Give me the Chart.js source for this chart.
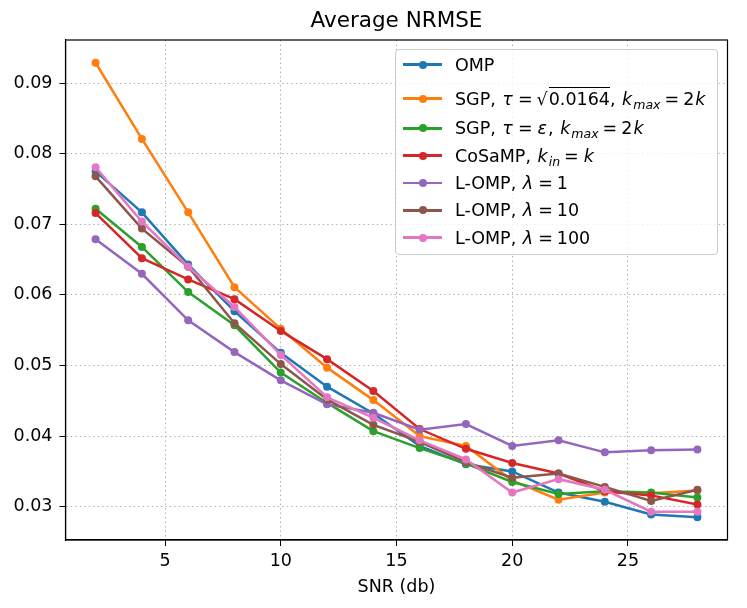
<!DOCTYPE html>
<html>
<head>
<meta charset="utf-8">
<script src="https://cdn.jsdelivr.net/npm/chart.js@4/dist/chart.umd.min.js"></script>
<style>
  body { margin: 0; background: #fff; }
  #wrap { position: relative; width: 747px; height: 608px; }
  #title {
    position: absolute; left: 65.5px; top: 7px; width: 662px; text-align: center;
    font-family: "DejaVu Sans", sans-serif; font-size: 21.5px; line-height: 25px; color: #000;
  }
  #legend {
    position: absolute; left: 395px; top: 49px; width: 323px;
    background: rgba(255,255,255,0.8); border: 1px solid #cccccc; border-radius: 4px;
    font-family: "DejaVu Sans", sans-serif; font-size: 17.5px; color: #000;
    padding: 1px 0 3px 0; box-sizing: border-box;
  }
  .row { display: flex; align-items: center; height: 27.3px; white-space: nowrap; overflow: hidden; }
  .row.tall { height: 32px; padding-top: 4.5px; }
  .swatch { position: relative; width: 39px; height: 10px; margin: 0 13px 0 7px; flex: none; }
  .swatch .ln { position: absolute; left: 0; right: 0; top: 3.7px; height: 2.5px; }
  .swatch .dot { position: absolute; left: 15.5px; top: 1px; width: 8px; height: 8px; border-radius: 50%; }
  .ol { border-top: 1px solid #000; padding-top: 1px; margin-left: 1px; }
  i { margin: 0 1px; }
  .eq { margin: 0 4px; }
  sub { font-size: 12.5px; font-style: italic; vertical-align: -4px; line-height: 0; }
</style>
</head>
<body>
<div id="wrap">
  <canvas id="chart" width="747" height="608"></canvas>
  <div id="title">Average NRMSE</div>
  <div id="legend"></div>
</div>
<script>
const snr = [2, 4, 6, 8, 10, 12, 14, 16, 18, 20, 22, 24, 26, 28];
const yTicks = [0.03, 0.04, 0.05, 0.06, 0.07, 0.08, 0.09];
const xTicks = [5, 10, 15, 20, 25];

const omp     = [0.0775, 0.0717, 0.0643, 0.0577, 0.0518, 0.0470, 0.0432, 0.0386, 0.0360, 0.0350, 0.0320, 0.0307, 0.0289, 0.0285];
const sgpSqrt = [0.0929, 0.0821, 0.0717, 0.0611, 0.0552, 0.0497, 0.0451, 0.0400, 0.0386, 0.0337, 0.0310, 0.0320, 0.0319, 0.0323];
const sgpEps  = [0.0722, 0.0668, 0.0604, 0.0557, 0.0490, 0.0447, 0.0407, 0.0383, 0.0361, 0.0335, 0.0318, 0.0322, 0.0320, 0.0313];
const cosamp  = [0.0716, 0.0652, 0.0622, 0.0594, 0.0549, 0.0509, 0.0464, 0.0410, 0.0382, 0.0362, 0.0347, 0.0322, 0.0316, 0.0303];
const lomp1   = [0.0679, 0.0630, 0.0564, 0.0519, 0.0479, 0.0445, 0.0433, 0.0409, 0.0417, 0.0386, 0.0394, 0.0377, 0.0380, 0.0381];
const lomp10  = [0.0768, 0.0694, 0.0640, 0.0560, 0.0502, 0.0452, 0.0416, 0.0392, 0.0363, 0.0341, 0.0347, 0.0328, 0.0308, 0.0324];
const lomp100 = [0.0781, 0.0704, 0.0640, 0.0583, 0.0515, 0.0455, 0.0426, 0.0394, 0.0367, 0.0320, 0.0339, 0.0324, 0.0293, 0.0293];

const EQ = "<span class='eq'>=</span>";
const series = [
  { label: "OMP", data: omp, color: "#1f77b4",
    html: "OMP" },
  { label: "SGP, τ = √0.0164, k_max = 2k", data: sgpSqrt, color: "#ff7f0e", tall: true,
    html: `SGP, <i>τ</i>${EQ}√<span class='ol'>0.0164</span>, <i>k</i><sub>max</sub>${EQ}2<i>k</i>` },
  { label: "SGP, τ = ε, k_max = 2k", data: sgpEps, color: "#2ca02c",
    html: `SGP, <i>τ</i>${EQ}<i>ε</i>, <i>k</i><sub>max</sub>${EQ}2<i>k</i>` },
  { label: "CoSaMP, k_in = k", data: cosamp, color: "#d62728",
    html: `CoSaMP, <i>k</i><sub>in</sub>${EQ}<i>k</i>` },
  { label: "L-OMP, λ = 1", data: lomp1, color: "#9467bd",
    html: `L-OMP, <i>λ</i>${EQ}1` },
  { label: "L-OMP, λ = 10", data: lomp10, color: "#8c564b",
    html: `L-OMP, <i>λ</i>${EQ}10` },
  { label: "L-OMP, λ = 100", data: lomp100, color: "#e377c2",
    html: `L-OMP, <i>λ</i>${EQ}100` }
];

// legend as html so the math labels render
const legend = document.getElementById("legend");
series.forEach(s => {
  const row = document.createElement("div");
  row.className = "row" + (s.tall ? " tall" : "");
  row.innerHTML = `<span class="swatch"><span class="ln" style="background:${s.color}"></span>` +
    `<span class="dot" style="background:${s.color}"></span></span><span>${s.html}</span>`;
  legend.appendChild(row);
});

// top and right spines
const frame = {
  id: "frame",
  afterDraw(chart) {
    const a = chart.chartArea, ctx = chart.ctx;
    ctx.save();
    ctx.strokeStyle = "#000";
    ctx.lineWidth = 1.2;
    ctx.strokeRect(a.left, a.top, a.right - a.left, a.bottom - a.top);
    ctx.restore();
  }
};

const font = { family: "DejaVu Sans", size: 17.5 };

new Chart(document.getElementById("chart"), {
  type: "line",
  data: {
    datasets: series.map((s, i) => ({
      label: s.label,
      data: snr.map((x, j) => ({ x: x, y: s.data[j] })),
      borderColor: s.color,
      backgroundColor: s.color,
      borderWidth: 2.5,
      pointRadius: 4,
      pointBorderWidth: 0,
      order: series.length - 1 - i,
      tension: 0
    }))
  },
  options: {
    responsive: false,
    animation: false,
    layout: { padding: { left: 0, right: 19.5, top: 40, bottom: 6 } },
    plugins: {
      legend: { display: false },
      tooltip: { enabled: false },
      title: { display: false }
    },
    scales: {
      x: {
        type: "linear", min: 0.7, max: 29.3,
        afterBuildTicks: s => { s.ticks = xTicks.map(v => ({ value: v })); },
        afterFit: s => { s.height = 62; },
        ticks: { color: "#000", font: font, padding: 5, maxRotation: 0 },
        grid: { color: "#b0b0b0", lineWidth: 1, tickColor: "#000", tickLength: 6, tickBorderDash: [] },
        border: { color: "#000", width: 1.2, dash: [1.5, 3] },
        title: { display: true, text: "SNR (db)", color: "#000", font: font, padding: { top: 2, bottom: 4 } }
      },
      y: {
        min: 0.02528, max: 0.09612,
        afterBuildTicks: s => { s.ticks = yTicks.map(v => ({ value: v })); },
        afterFit: s => { s.width = 65.5; },
        ticks: { color: "#000", font: font, padding: 7, callback: v => v.toFixed(2) },
        grid: { color: "#b0b0b0", lineWidth: 1, tickColor: "#000", tickLength: 6, tickBorderDash: [] },
        border: { color: "#000", width: 1.2, dash: [1.5, 3] }
      }
    }
  },
  plugins: [frame]
});
</script>
</body>
</html>
